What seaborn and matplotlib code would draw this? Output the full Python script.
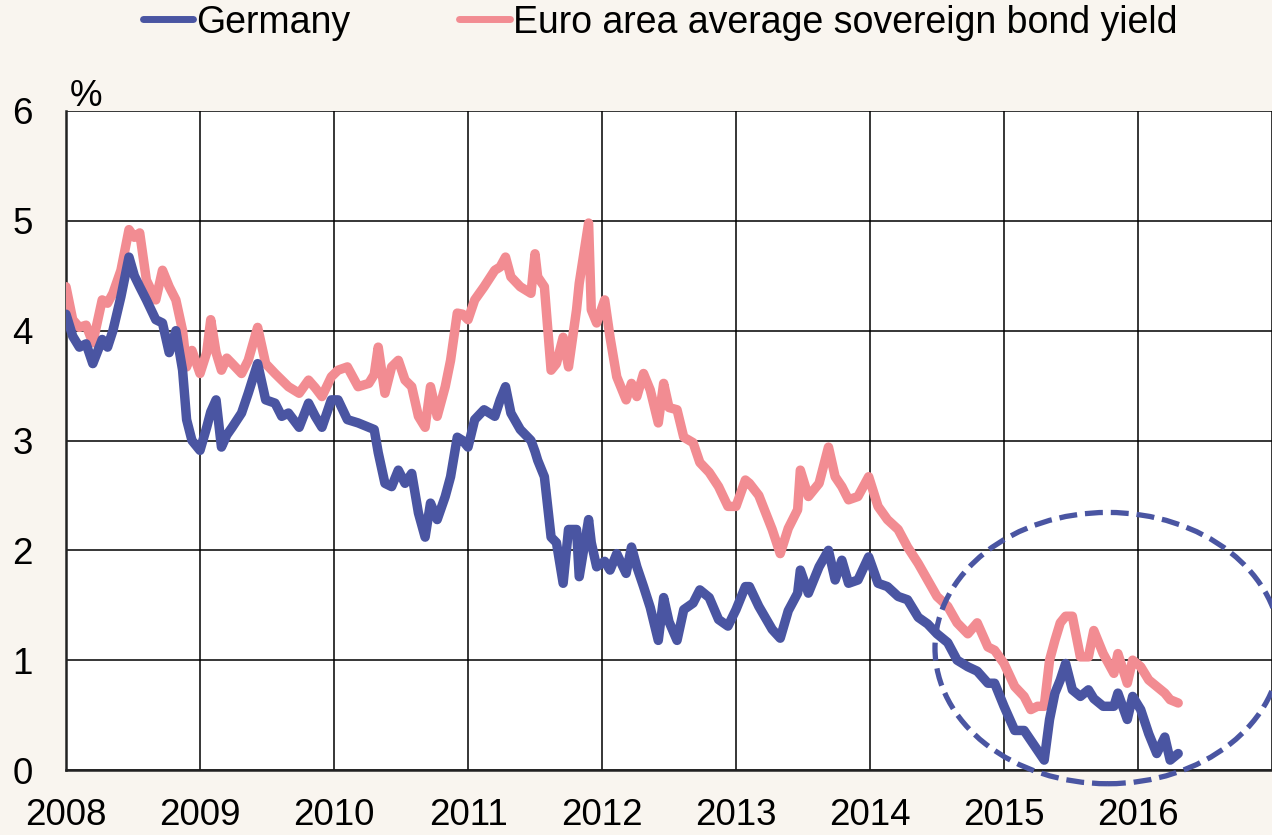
import numpy as np
import pandas as pd
import matplotlib
matplotlib.use("Agg")
import matplotlib.pyplot as plt
from matplotlib.patches import Ellipse
from matplotlib.lines import Line2D
import seaborn as sns

# decimal years
dates = [
    2008.00, 2008.05, 2008.10, 2008.15, 2008.20, 2008.27, 2008.31, 2008.35, 2008.41, 2008.47,
    2008.51, 2008.55, 2008.60, 2008.67, 2008.72, 2008.77, 2008.82, 2008.87, 2008.90, 2008.94,
    2009.00, 2009.05, 2009.08, 2009.12, 2009.16, 2009.20, 2009.24, 2009.31, 2009.36, 2009.43,
    2009.49, 2009.56, 2009.61, 2009.66, 2009.74, 2009.81, 2009.86, 2009.91, 2009.98, 2010.03,
    2010.10, 2010.18, 2010.26, 2010.30, 2010.33, 2010.38, 2010.43, 2010.48, 2010.53, 2010.58,
    2010.63, 2010.68, 2010.72, 2010.77, 2010.83, 2010.87, 2010.92, 2010.96, 2011.00, 2011.05,
    2011.12, 2011.20, 2011.24, 2011.28, 2011.32, 2011.39, 2011.47, 2011.50, 2011.52, 2011.57,
    2011.62, 2011.66, 2011.71, 2011.75, 2011.81, 2011.83, 2011.90, 2011.92, 2011.96, 2012.02,
    2012.06, 2012.11, 2012.18, 2012.22, 2012.26, 2012.31, 2012.36, 2012.42, 2012.46, 2012.50,
    2012.56, 2012.61, 2012.68, 2012.73, 2012.80, 2012.87, 2012.94, 2013.00, 2013.07, 2013.10,
    2013.17, 2013.27, 2013.33, 2013.39, 2013.46, 2013.48, 2013.54, 2013.62, 2013.69, 2013.74,
    2013.79, 2013.84, 2013.91, 2013.99, 2014.06, 2014.13, 2014.21, 2014.28, 2014.36, 2014.43,
    2014.50, 2014.58, 2014.65, 2014.73, 2014.80, 2014.88, 2014.93, 2015.00, 2015.08, 2015.15,
    2015.20, 2015.25, 2015.30, 2015.34, 2015.38, 2015.42, 2015.46, 2015.51, 2015.57, 2015.63,
    2015.67, 2015.74, 2015.82, 2015.85, 2015.92, 2015.96, 2016.02, 2016.08, 2016.14, 2016.20,
    2016.24, 2016.30,
]

germany = [
    4.15, 3.95, 3.85, 3.88, 3.70, 3.92, 3.85, 4.00, 4.31, 4.67,
    4.50, 4.40, 4.28, 4.10, 4.07, 3.80, 4.00, 3.64, 3.19, 3.00,
    2.91, 3.12, 3.26, 3.37, 2.94, 3.05, 3.12, 3.25, 3.43, 3.70,
    3.37, 3.34, 3.22, 3.25, 3.12, 3.34, 3.22, 3.12, 3.37, 3.37,
    3.19, 3.16, 3.12, 3.10, 2.89, 2.61, 2.58, 2.73, 2.61, 2.70,
    2.34, 2.12, 2.43, 2.28, 2.49, 2.67, 3.03, 3.00, 2.94, 3.19,
    3.28, 3.22, 3.37, 3.49, 3.25, 3.10, 3.00, 2.90, 2.82, 2.67,
    2.12, 2.07, 1.70, 2.19, 2.19, 1.76, 2.28, 2.07, 1.85, 1.90,
    1.82, 1.97, 1.79, 2.03, 1.85, 1.67, 1.48, 1.18, 1.57, 1.35,
    1.18, 1.46, 1.52, 1.64, 1.57, 1.37, 1.31, 1.46, 1.67, 1.67,
    1.49, 1.28, 1.20, 1.45, 1.61, 1.82, 1.61, 1.85, 2.00, 1.73,
    1.91, 1.70, 1.73, 1.94, 1.70, 1.67, 1.58, 1.55, 1.39, 1.33,
    1.24, 1.16, 1.00, 0.94, 0.90, 0.79, 0.79, 0.58, 0.36, 0.36,
    0.27, 0.18, 0.09, 0.46, 0.70, 0.82, 0.97, 0.73, 0.67, 0.73,
    0.65, 0.58, 0.58, 0.70, 0.46, 0.67, 0.55, 0.33, 0.15, 0.30,
    0.09, 0.15,
]

euro_area = [
    4.40, 4.10, 4.03, 4.05, 3.89, 4.28, 4.25, 4.34, 4.55, 4.92,
    4.85, 4.89, 4.46, 4.28, 4.55, 4.40, 4.28, 4.00, 3.67, 3.82,
    3.61, 3.80, 4.10, 3.80, 3.64, 3.75, 3.70, 3.61, 3.73, 4.03,
    3.70, 3.61, 3.55, 3.49, 3.43, 3.55, 3.48, 3.40, 3.58, 3.64,
    3.67, 3.49, 3.52, 3.60, 3.85, 3.43, 3.67, 3.73, 3.55, 3.49,
    3.22, 3.12, 3.49, 3.22, 3.49, 3.73, 4.16, 4.15, 4.10, 4.28,
    4.40, 4.55, 4.58, 4.67, 4.49, 4.40, 4.34, 4.70, 4.49, 4.40,
    3.64, 3.70, 3.94, 3.67, 4.19, 4.43, 4.98, 4.19, 4.07, 4.28,
    3.94, 3.58, 3.37, 3.52, 3.40, 3.61, 3.46, 3.16, 3.52, 3.30,
    3.28, 3.03, 2.98, 2.80, 2.71, 2.58, 2.40, 2.40, 2.64, 2.61,
    2.50, 2.19, 1.97, 2.20, 2.37, 2.73, 2.49, 2.61, 2.94, 2.67,
    2.58, 2.46, 2.49, 2.67, 2.40, 2.28, 2.19, 2.03, 1.88, 1.73,
    1.58, 1.49, 1.34, 1.24, 1.34, 1.12, 1.09, 0.97, 0.76, 0.67,
    0.55, 0.58, 0.58, 1.00, 1.18, 1.34, 1.40, 1.40, 1.03, 1.03,
    1.27, 1.06, 0.88, 1.06, 0.79, 1.00, 0.94, 0.82, 0.76, 0.70,
    0.64, 0.61,
]

series_names = ["Germany", "Euro area average sovereign bond yield"]
year_ticks = list(range(2008, 2018))
year_labels = [str(y) for y in range(2008, 2017)] + [""]
y_ticks = [0, 1, 2, 3, 4, 5, 6]

blue = "#4a55a2"
pink = "#f28c92"
bg = "#f9f5ef"

df = pd.DataFrame({
    "date": dates * 2,
    "yield": euro_area + germany,
    "series": [series_names[1]] * len(dates) + [series_names[0]] * len(dates),
})

sns.set_style("white")
plt.rcParams["font.family"] = ["Liberation Sans", "DejaVu Sans"]
plt.rcParams["text.color"] = "black"

fig = plt.figure(figsize=(12.72, 8.35), dpi=100, facecolor=bg)
ax = fig.add_axes([66 / 1272, 65 / 835, 1206 / 1272, 659 / 835])
ax.set_facecolor("white")

sns.lineplot(data=df, x="date", y="yield", hue="series", hue_order=[series_names[1], series_names[0]],
             palette={series_names[0]: blue, series_names[1]: pink}, linewidth=6.8,
             legend=False, ax=ax, zorder=3, solid_capstyle="round", solid_joinstyle="round")

ax.set_xlim(2008, 2016.95)
ax.set_ylim(0, 6)
ax.set_xticks(year_ticks)
ax.set_xticklabels(year_labels)
ax.set_yticks(y_ticks)
ax.grid(True, color="black", linewidth=1.1)
ax.set_axisbelow(True)
ax.tick_params(axis="both", length=0, labelsize=26.5, colors="black")
ax.tick_params(axis="x", pad=20)
ax.tick_params(axis="y", pad=24)
ax.set_xlabel("")
ax.set_ylabel("")
for side in ["top", "right"]:
    ax.spines[side].set_visible(False)
for side in ["left", "bottom"]:
    ax.spines[side].set_color("#222222")
    ax.spines[side].set_linewidth(1.8)

ax.text(0.003, 0.996, "%", transform=ax.transAxes, fontsize=26.5, ha="left", va="bottom", color="black")

ell = Ellipse((2015.775, 1.11), 2.58, 2.47, fill=False, edgecolor=blue, linewidth=3.8,
              linestyle=(0, (3.4, 1.5)), clip_on=False, zorder=4)
ax.add_patch(ell)

handles = [Line2D([0], [0], color=blue, lw=5, solid_capstyle="round"),
           Line2D([0], [0], color=pink, lw=5, solid_capstyle="round")]
leg = fig.legend(handles, series_names, loc="upper center", bbox_to_anchor=(0.519, 1.035), ncol=2,
                 frameon=False, fontsize=27, handlelength=1.35, handletextpad=0.08, columnspacing=2.9)
for t in leg.get_texts():
    t.set_color("black")

fig.savefig("out.png", dpi=100, facecolor=bg)
